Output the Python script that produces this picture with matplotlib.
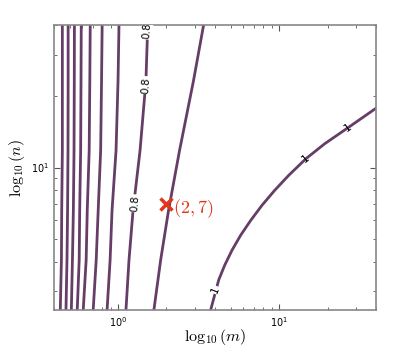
import matplotlib.pyplot as plt
import numpy as np

plt.rcParams['mathtext.fontset'] = 'cm'

# contour lines: n values shared by the near-vertical levels
n_rows = [2.5, 4.07, 6.6, 11.8, 23.2, 40]
levels = [0.1, 0.2, 0.3, 0.4, 0.5, 0.6, 0.7, 0.8, 0.9]
m_rows = [
    [0.438, 0.445, 0.447, 0.451, 0.451, 0.451],
    [0.475, 0.482, 0.486, 0.489, 0.490, 0.490],
    [0.513, 0.521, 0.528, 0.533, 0.535, 0.536],
    [0.558, 0.574, 0.578, 0.586, 0.589, 0.591],
    [0.608, 0.634, 0.644, 0.662, 0.668, 0.672],
    [0.701, 0.732, 0.753, 0.780, 0.790, 0.797],
    [0.855, 0.893, 0.918, 0.972, 1.000, 1.014],
    [1.12, 1.17, 1.24, 1.37, 1.49, 1.53],
    [1.67, 1.84, 2.06, 2.41, 2.94, 3.40],
]
# level 1 curve
m_one = [3.76, 4.22, 4.60, 5.11, 5.78, 6.67, 7.83, 9.38, 11.45, 14.7, 19.2, 26.7, 40]
n_one = [2.5, 3.35, 3.87, 4.48, 5.18, 5.98, 6.92, 8.00, 9.25, 10.9, 12.6, 14.7, 17.8]

# labels: (m, n, text, rotation, gap)
labels = [
    (1.52, 37.9, '0.8', 86, True),
    (1.49, 22.3, '0.8', 86, True),
    (1.27, 7.06, '0.8', 85, True),
    (4.03, 3.04, '1', 68, True),
    (14.7, 10.9, '1', 38, False),
    (26.7, 14.7, '1', 35, False),
]
point = (2, 7)

col = '#663d66'
fig = plt.figure(figsize=(4.15, 3.49), dpi=100)
ax = fig.add_axes([0.130, 0.1117, 0.776, 0.8166])
ax.set_xscale('log')
ax.set_yscale('log')

for lv, ms in zip(levels, m_rows):
    ax.plot(ms, n_rows, color=col, lw=2, zorder=2)
ax.plot(m_one, n_one, color=col, lw=2, zorder=2)

for m, n, t, rot, gap in labels:
    kw = dict(facecolor='white', edgecolor='none', pad=0.5) if gap else None
    ax.text(m, n, t, rotation=rot, ha='center', va='center', fontsize=7.5,
            color='black', bbox=kw, zorder=3, clip_on=True)

ax.plot(*point, marker='x', color='#e0361a', ms=8, mew=2.5, zorder=4)
ax.text(point[0] * 1.09, point[1] * 0.96, r'$(2,7)$', color='#e0361a', fontsize=13,
        ha='left', va='center', zorder=4)

ax.set_xlim(0.4, 40)
ax.set_ylim(2.5, 40)
ax.set_xlabel(r'$\log_{10}(m)$', fontsize=11.5, labelpad=-1)
ax.set_ylabel(r'$\log_{10}(n)$', fontsize=11.5, labelpad=3)
ax.tick_params(which='both', direction='in', top=True, right=True,
               labelsize=7, colors='#555555', labelcolor='black')
ax.tick_params(which='major', length=4)
ax.tick_params(which='minor', length=2.5)
for s in ax.spines.values():
    s.set_color('#888888')
    s.set_linewidth(1.2)

plt.savefig('out.png', dpi=100)
